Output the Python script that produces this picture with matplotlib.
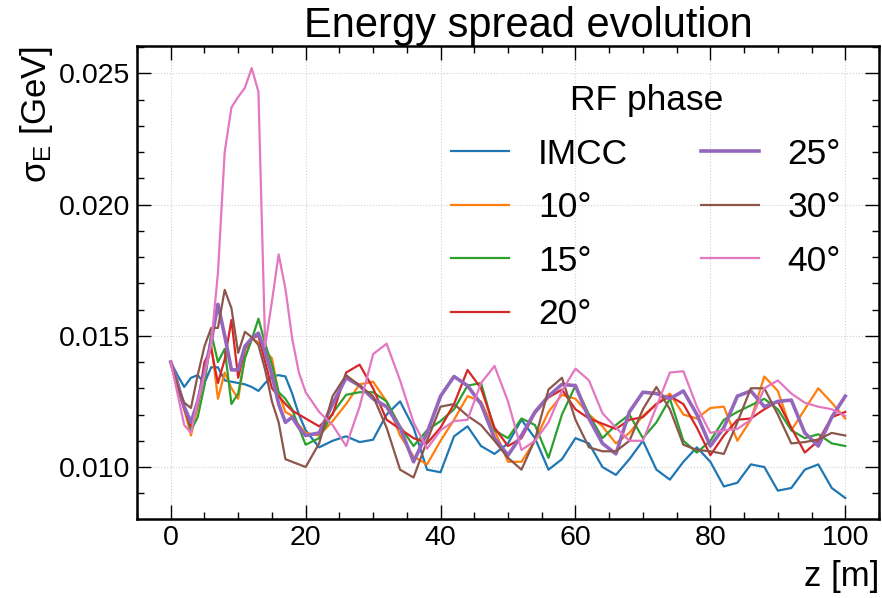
import matplotlib
matplotlib.use("Agg")
import matplotlib.pyplot as plt
import numpy as np
from matplotlib.ticker import MultipleLocator

# ---------------- data (sigma_E in units of 1e-3 GeV) ----------------
z = list(range(0, 21)) + list(range(22, 101, 2))

imcc = [14.0, 13.5, 13.05, 13.4, 13.5, 13.2, 13.8, 13.8, 13.3, 13.25, 13.2,
        13.15, 13.05, 12.9, 13.2, 13.45, 13.5, 13.45, 12.8, 12.0, 11.4,
        10.75, 11.0, 11.17, 10.95, 11.04, 12.0, 12.5, 11.5, 9.9, 9.8,
        11.17, 11.55, 10.8, 10.5, 10.9, 11.8, 11.1, 9.9, 10.3, 11.1,
        10.9, 10.0, 9.7, 10.3, 11.0, 9.9, 9.52, 10.2, 10.75, 10.2,
        9.26, 9.4, 10.1, 10.0, 9.1, 9.2, 9.9, 10.1, 9.2, 8.82]

ph10 = [14.0, 13.3, 12.2, 11.2, 12.3, 13.5, 14.7, 12.6, 13.6, 13.0, 12.6,
        14.2, 14.9, 14.75, 14.4, 14.15, 12.8, 12.1, 11.95, 11.6, 11.3,
        11.2, 11.75, 12.4, 13.15, 13.25, 12.5, 11.2, 10.4, 10.1, 11.0,
        11.8, 12.7, 12.5, 11.4, 10.2, 10.2, 11.0, 12.1, 12.75, 12.6,
        12.0, 11.55, 10.9, 11.3, 11.95, 12.4, 12.8, 12.0, 11.85, 12.25,
        12.3, 11.0, 11.8, 13.45, 12.9, 11.4, 12.2, 13.0, 12.45, 11.85]

ph15 = [14.0, 13.2, 12.3, 11.4, 11.9, 13.1, 15.1, 14.0, 14.5, 12.4, 12.8,
        14.15, 14.85, 15.65, 14.7, 13.9, 12.85, 12.6, 12.2, 11.5, 10.85,
        11.1, 12.05, 12.75, 12.85, 12.85, 12.5, 11.55, 10.8, 11.4, 11.75,
        12.2, 13.1, 13.2, 11.4, 11.1, 11.85, 11.6, 10.35, 12.0, 13.1,
        12.0, 11.1, 11.6, 12.0, 11.1, 11.7, 12.6, 11.0, 10.55, 11.0,
        11.8, 12.1, 12.35, 12.6, 12.2, 11.4, 11.1, 11.25, 10.9, 10.8]

ph20 = [14.0, 13.0, 12.2, 11.55, 12.4, 14.0, 14.5, 13.2, 14.1, 15.6, 13.4,
        14.5, 14.9, 15.0, 14.0, 13.0, 12.7, 12.4, 12.15, 12.0, 11.85,
        11.55, 12.0, 13.6, 13.9, 13.0, 11.8, 11.45, 11.1, 10.9, 11.5,
        12.4, 13.7, 13.0, 11.5, 10.8, 11.1, 12.05, 12.65, 12.95, 12.2,
        11.85, 11.65, 11.45, 11.8, 11.9, 12.4, 12.7, 12.4, 11.5, 10.45,
        11.2, 11.8, 11.85, 12.2, 12.5, 11.5, 10.55, 11.0, 11.9, 12.1]

ph25 = [14.0, 13.2, 12.3, 11.7, 12.5, 13.6, 14.8, 16.2, 15.0, 13.7, 13.7,
        14.6, 14.9, 15.1, 14.4, 13.5, 12.4, 11.7, 11.9, 11.5, 11.2,
        11.3, 12.4, 13.4, 13.1, 12.6, 12.3, 11.5, 10.2, 11.3, 12.7,
        13.45, 13.1, 12.4, 11.1, 10.45, 11.2, 12.1, 12.7, 13.15, 13.1,
        11.85, 10.9, 10.5, 12.1, 12.85, 12.8, 12.6, 12.9, 12.0, 10.8,
        11.5, 12.7, 12.9, 12.3, 12.5, 12.55, 11.3, 10.8, 11.9, 12.7]

ph30 = [14.0, 13.1, 12.45, 12.25, 13.5, 14.6, 15.3, 15.3, 16.75, 16.05, 14.35,
        15.15, 14.95, 14.65, 13.7, 12.5, 11.7, 10.3, 10.2, 10.1, 10.0,
        10.9, 12.7, 13.5, 13.1, 12.7, 11.5, 9.9, 9.6, 11.0, 12.3,
        12.4, 11.95, 11.6, 11.0, 10.35, 9.9, 11.05, 12.95, 13.4, 11.8,
        10.75, 10.6, 10.6, 11.0, 12.2, 13.05, 12.2, 10.85, 10.65, 10.6,
        10.5, 11.7, 13.0, 13.0, 12.0, 10.9, 10.95, 11.05, 11.3, 11.2]

ph40 = [14.0, 12.8, 11.6, 11.3, 12.5, 13.5, 14.7, 17.4, 22.0, 23.7, 24.1,
        24.45, 25.2, 24.3, 14.6, 16.3, 18.1, 16.8, 14.9, 13.6, 12.85,
        12.1, 11.6, 10.8, 12.3, 14.3, 14.7, 13.3, 11.7, 10.7, 11.4,
        11.75, 11.8, 13.2, 13.85, 12.5, 10.65, 11.0, 11.7, 12.9, 13.75,
        13.3, 12.05, 11.5, 11.0, 11.0, 12.3, 13.6, 13.65, 12.3, 11.3,
        11.4, 11.45, 11.8, 13.0, 13.3, 12.8, 12.45, 12.3, 12.2, 11.95]

labels = ["IMCC", "10°", "15°", "20°", "25°", "30°", "40°"]
series = [imcc, ph10, ph15, ph20, ph25, ph30, ph40]
colors = ["#1f77b4", "#ff7f0e", "#2ca02c", "#d62728", "#9467bd", "#8c564b", "#e377c2"]
widths = [1.6, 1.6, 1.6, 1.6, 2.6, 1.6, 1.6]

# ---------------- style ----------------
plt.rcParams['font.family'] = ['Liberation Sans', 'DejaVu Sans']
plt.rcParams['mathtext.fontset'] = 'custom'
plt.rcParams['mathtext.rm'] = 'Liberation Sans'
plt.rcParams['mathtext.it'] = 'Liberation Sans:italic'

fig = plt.figure(figsize=(8.82, 5.98), dpi=100)
ax = fig.add_axes([137 / 882, 1 - 519 / 598, 742 / 882, 473 / 598])

zz = np.array(z)
for vals, lab, col, lw in zip(series, labels, colors, widths):
    ax.plot(zz, np.array(vals) * 1e-3, color=col, lw=lw, label=lab)

ax.set_xlim(-5, 105)
ax.set_ylim(0.00802, 0.02604)
ax.xaxis.set_major_locator(MultipleLocator(20))
ax.xaxis.set_minor_locator(MultipleLocator(5))
ax.yaxis.set_major_locator(MultipleLocator(0.005))
ax.yaxis.set_minor_locator(MultipleLocator(0.001))
ax.yaxis.set_major_formatter(plt.FuncFormatter(lambda v, p: f"{v:.3f}"))

ax.tick_params(which='both', direction='in', top=True, right=True, labelsize=20.5)
ax.tick_params(which='major', length=10, width=1.0)
ax.tick_params(which='minor', length=5, width=1.0)
ax.tick_params(axis='x', pad=4)
ax.tick_params(axis='y', pad=5)
for s in ax.spines.values():
    s.set_linewidth(1.8)

ax.grid(True, which='major', linestyle=':', color='#d0d0d0', linewidth=0.8)

ax.set_title("Energy spread evolution", fontsize=30, pad=-2.5, x=0.528)
ax.set_xlabel("z [m]", fontsize=25, loc='right', labelpad=7)
ax.set_ylabel("σ$_\\mathregular{E}$ [GeV]", fontsize=25, loc='top', labelpad=3)

leg = ax.legend(title="RF phase", ncol=2, loc='upper right', frameon=False,
                bbox_to_anchor=(0.992, 0.987),
                fontsize=25.5, title_fontsize=25.5, handlelength=1.63,
                handletextpad=0.82, columnspacing=2.05, labelspacing=0.58)

fig.savefig("out.png", dpi=100)
